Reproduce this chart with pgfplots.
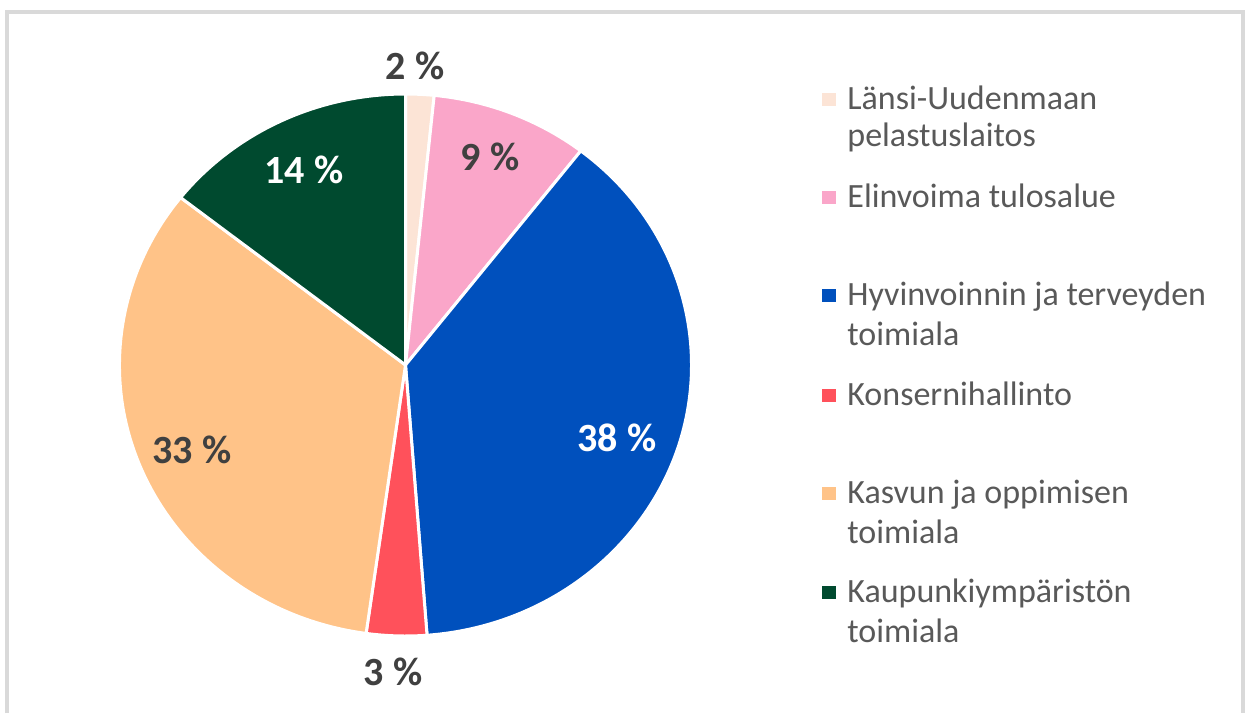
\documentclass[border=0pt]{standalone}
\usepackage{pgfplots}
\pgfplotsset{compat=1.18}
\usepackage{pgfplotstable}
\usepackage{fontspec}
\setmainfont{Carlito}

\definecolor{cLansi}{HTML}{FCE4D6}
\definecolor{cElin}{HTML}{FAA6C9}
\definecolor{cHyv}{HTML}{0050BD}
\definecolor{cKons}{HTML}{FF515B}
\definecolor{cKasv}{HTML}{FFC388}
\definecolor{cKaup}{HTML}{004A2F}
\definecolor{legtext}{HTML}{595959}
\definecolor{labtext}{HTML}{404040}
\definecolor{frame}{HTML}{D9D9D9}

% share in percent, clockwise from 12 o'clock
\pgfplotstableread{
value color
1.6   cLansi
8.9   cElin
38.3  cHyv
3.4   cKons
33.4  cKasv
14.4  cKaup
}\piedata

\begin{document}
\begin{tikzpicture}
\begin{axis}[
    width=622.5pt, height=356.5pt,
    scale only axis,
    xmin=0, xmax=1245, ymin=0, ymax=713,
    y dir=reverse,
    hide axis,
    clip=false,
  ]
  % frame
  \draw[frame, line width=2pt] (axis cs:7,713) -- (axis cs:7,12) -- (axis cs:1243,12) -- (axis cs:1243,713);

  % slices
  \def\cum{0}
  \pgfplotsforeachungrouped \i in {0,...,5}{%
    \pgfplotstablegetelem{\i}{value}\of\piedata \let\val\pgfplotsretval
    \pgfplotstablegetelem{\i}{color}\of\piedata \let\col\pgfplotsretval
    \pgfmathsetmacro\a{90-3.6*\cum}%
    \pgfmathsetmacro\b{90-3.6*(\cum+\val)}%
    \edef\temp{\noexpand\draw[fill=\col, draw=white, line width=1.5pt, line join=round]
      (axis cs:405.5,365) -- ++(\a:143pt and 135.5pt)
      arc[start angle=\a, end angle=\b, x radius=143pt, y radius=135.5pt] -- cycle;}%
    \temp
    \pgfmathsetmacro\cum{\cum+\val}%
  }

  % data labels
  \begin{scope}[font=\fontsize{20}{22}\selectfont\bfseries]
    \node[labtext] at (axis cs:415,66) {2 \%};
    \node[labtext] at (axis cs:490,157) {9 \%};
    \node[white]   at (axis cs:617,438) {38 \%};
    \node[labtext] at (axis cs:393,672) {3 \%};
    \node[labtext] at (axis cs:192,450) {33 \%};
    \node[white]   at (axis cs:304,170) {14 \%};
  \end{scope}

  % legend
  \begin{scope}[every node/.style={anchor=base west, inner sep=0pt, text=legtext,
      font=\fontsize{17}{19}\selectfont}]
    \fill[cLansi] (axis cs:822,93)  rectangle (axis cs:836,106);
    \node at (axis cs:847,109) {Länsi-Uudenmaan};
    \node at (axis cs:847,146) {pelastuslaitos};
    \fill[cElin] (axis cs:822,191)  rectangle (axis cs:836,204);
    \node at (axis cs:847,207) {Elinvoima tulosalue};
    \fill[cHyv] (axis cs:822,289)  rectangle (axis cs:836,302);
    \node at (axis cs:847,305) {Hyvinvoinnin ja terveyden};
    \node at (axis cs:847,345) {toimiala};
    \fill[cKons] (axis cs:822,389)  rectangle (axis cs:836,402);
    \node at (axis cs:847,405) {Konsernihallinto};
    \fill[cKasv] (axis cs:822,487)  rectangle (axis cs:836,500);
    \node at (axis cs:847,503) {Kasvun ja oppimisen};
    \node at (axis cs:847,543) {toimiala};
    \fill[cKaup] (axis cs:822,586)  rectangle (axis cs:836,599);
    \node at (axis cs:847,602) {Kaupunkiympäristön};
    \node at (axis cs:847,642) {toimiala};
  \end{scope}
\end{axis}
\pgfresetboundingbox
\path[use as bounding box] (current axis.south west) rectangle (current axis.north east);
\end{tikzpicture}
\end{document}
